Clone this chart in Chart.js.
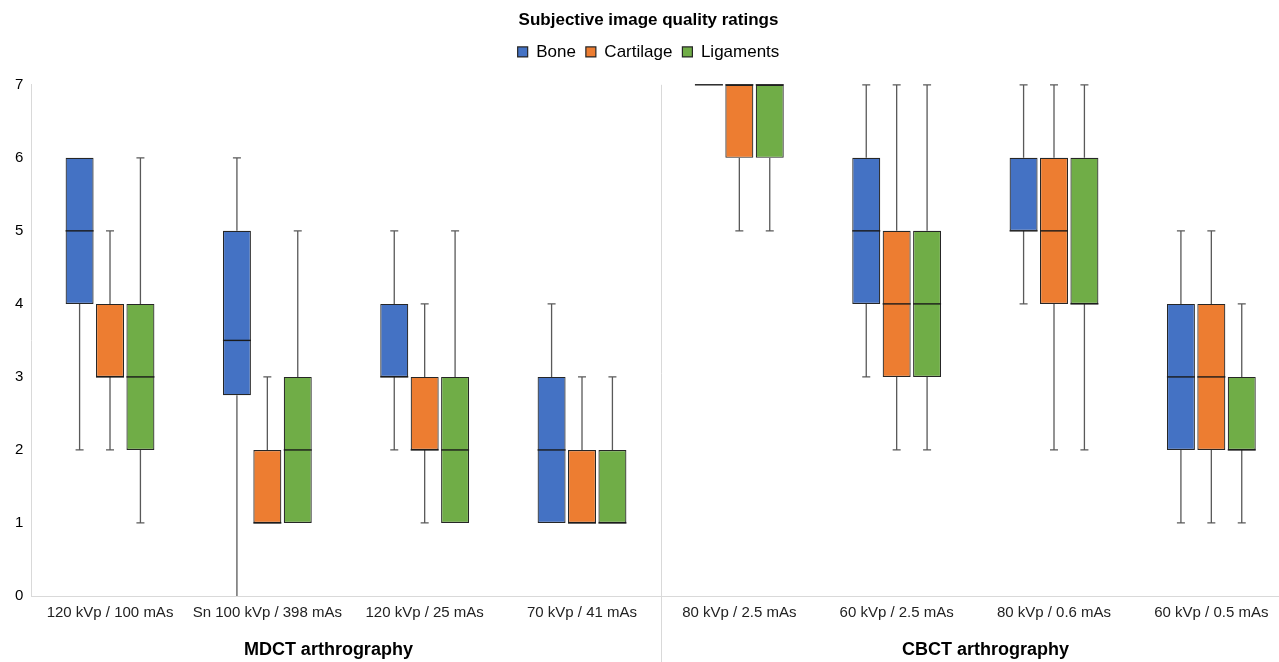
<!DOCTYPE html>
<html>
<head>
<meta charset="utf-8">
<script src="https://cdn.jsdelivr.net/npm/chart.js@4.4.1/dist/chart.umd.min.js"></script>
<style>
  html, body { margin: 0; padding: 0; background: #fff; overflow: hidden; }
  #wrap { width: 1279px; height: 662px; overflow: hidden; }
  #box { width: 1308px; height: 662px; }
</style>
</head>
<body>
<div id="wrap"><div id="box"><canvas id="chart"></canvas></div></div>
<script>
const categories = [
  '120 kVp / 100 mAs', 'Sn 100 kVp / 398 mAs', '120 kVp / 25 mAs', '70 kVp / 41 mAs',
  '80 kVp / 2.5 mAs', '60 kVp / 2.5 mAs', '80 kVp / 0.6 mAs', '60 kVp / 0.5 mAs'
];
const groupLabels = ['MDCT arthrography', 'CBCT arthrography'];
const seriesNames = ['Bone', 'Cartilage', 'Ligaments'];
const yTicks = [0, 1, 2, 3, 4, 5, 6, 7];

// five-number summaries per category
const boneMin = [2, 0, 2, 1, 7, 3, 4, 1];
const boneQ1  = [4, 2.75, 3, 1, 7, 4, 5, 2];
const boneMed = [5, 3.5, 3, 2, 7, 5, 5, 3];
const boneQ3  = [6, 5, 4, 3, 7, 6, 6, 4];
const boneMax = [6, 6, 5, 4, 7, 7, 7, 5];

const cartMin = [2, 1, 1, 1, 5, 2, 2, 1];
const cartQ1  = [3, 1, 2, 1, 6, 3, 4, 2];
const cartMed = [3, 1, 2, 1, 7, 4, 5, 3];
const cartQ3  = [4, 2, 3, 2, 7, 5, 6, 4];
const cartMax = [5, 3, 4, 3, 7, 7, 7, 5];

const ligMin = [1, 1, 1, 1, 5, 2, 2, 1];
const ligQ1  = [2, 1, 1, 1, 6, 3, 4, 2];
const ligMed = [3, 2, 2, 1, 7, 4, 4, 2];
const ligQ3  = [4, 3, 3, 2, 7, 5, 6, 3];
const ligMax = [6, 5, 5, 3, 7, 7, 7, 4];

const colors = ['#4472C4', '#ED7D31', '#70AD47'];
const FONT = "'Liberation Sans', Arial, Helvetica, sans-serif";

function makeSet(name, color, min, q1, med, q3, max) {
  return {
    label: name,
    data: q1.map((v, i) => [v, q3[i]]),
    stats: { min: min, med: med, max: max },
    backgroundColor: color,
    borderColor: '#262626',
    borderWidth: 1.2,
    borderSkipped: false,
    categoryPercentage: 0.58,
    barPercentage: 0.92
  };
}

const datasets = [
  makeSet(seriesNames[0], colors[0], boneMin, boneQ1, boneMed, boneQ3, boneMax),
  makeSet(seriesNames[1], colors[1], cartMin, cartQ1, cartMed, cartQ3, cartMax),
  makeSet(seriesNames[2], colors[2], ligMin, ligQ1, ligMed, ligQ3, ligMax)
];

// whiskers, caps and median lines on top of the floating bars
const boxWhiskers = {
  id: 'boxWhiskers',
  afterDatasetsDraw(chart) {
    const ctx = chart.ctx;
    const y = chart.scales.y;
    chart.data.datasets.forEach((ds, di) => {
      const meta = chart.getDatasetMeta(di);
      meta.data.forEach((bar, i) => {
        const x = bar.x;
        const half = bar.width / 2;
        const lo = ds.data[i][0], hi = ds.data[i][1];
        const yLo = y.getPixelForValue(lo), yHi = y.getPixelForValue(hi);
        const yMin = y.getPixelForValue(ds.stats.min[i]);
        const yMax = y.getPixelForValue(ds.stats.max[i]);
        ctx.save();
        ctx.strokeStyle = '#595959';
        ctx.lineWidth = 1.3;
        ctx.beginPath();
        if (ds.stats.max[i] > hi) {
          ctx.moveTo(x, yHi); ctx.lineTo(x, yMax);
          ctx.moveTo(x - 4, yMax); ctx.lineTo(x + 4, yMax);
        }
        if (ds.stats.min[i] < lo) {
          ctx.moveTo(x, yLo); ctx.lineTo(x, yMin);
          if (ds.stats.min[i] > y.min) {
            ctx.moveTo(x - 4, yMin); ctx.lineTo(x + 4, yMin);
          }
        }
        ctx.stroke();
        const yMed = y.getPixelForValue(ds.stats.med[i]);
        ctx.strokeStyle = '#1a1a1a';
        ctx.lineWidth = 1.4;
        ctx.beginPath();
        ctx.moveTo(x - half, yMed); ctx.lineTo(x + half, yMed);
        ctx.stroke();
        ctx.restore();
      });
    });
  },
  afterDraw(chart) {
    const ctx = chart.ctx;
    const area = chart.chartArea;
    const xs = chart.scales.x;
    const sepX = (xs.getPixelForValue(3) + xs.getPixelForValue(4)) / 2;
    ctx.save();
    ctx.strokeStyle = '#d9d9d9';
    ctx.lineWidth = 1;
    ctx.beginPath();
    ctx.moveTo(Math.round(sepX) + 0.5, area.top);
    ctx.lineTo(Math.round(sepX) + 0.5, chart.height);
    ctx.stroke();
    ctx.fillStyle = '#000';
    ctx.font = 'bold 18px ' + FONT;
    ctx.textAlign = 'center';
    ctx.textBaseline = 'middle';
    const w = area.right - area.left;
    ctx.fillText(groupLabels[0], area.left + w * 0.236, 650);
    ctx.fillText(groupLabels[1], area.left + w * 0.758, 650);
    ctx.restore();
  }
};

new Chart(document.getElementById('chart'), {
  type: 'bar',
  data: { labels: categories, datasets: datasets },
  plugins: [boxWhiskers],
  options: {
    responsive: true,
    maintainAspectRatio: false,
    animation: false,
    layout: { padding: { left: 7, right: 18, top: 0, bottom: 32 } },
    plugins: {
      title: {
        display: true,
        text: 'Subjective image quality ratings',
        color: '#000',
        font: { family: FONT, size: 17, weight: 'bold' },
        padding: { top: 10, bottom: 3 }
      },
      subtitle: {
        display: true,
        text: '',
        font: { size: 12 },
        padding: 0
      },
      legend: {
        position: 'top',
        weight: 1600,
        labels: {
          boxWidth: 10,
          boxHeight: 10,
          padding: 10,
          color: '#000',
          font: { family: FONT, size: 17 }
        }
      },
      tooltip: { enabled: false }
    },
    scales: {
      x: {
        grid: { display: false, drawTicks: false },
        border: { color: '#d9d9d9' },
        ticks: {
          color: '#222',
          padding: 8,
          maxRotation: 0,
          autoSkip: false,
          font: { family: FONT, size: 15 }
        }
      },
      y: {
        min: yTicks[0],
        max: yTicks[yTicks.length - 1],
        grid: { display: false, drawTicks: false },
        border: { color: '#d9d9d9' },
        ticks: {
          stepSize: 1,
          color: '#000',
          padding: 8,
          font: { family: FONT, size: 15 }
        }
      }
    }
  }
});
</script>
</body>
</html>
